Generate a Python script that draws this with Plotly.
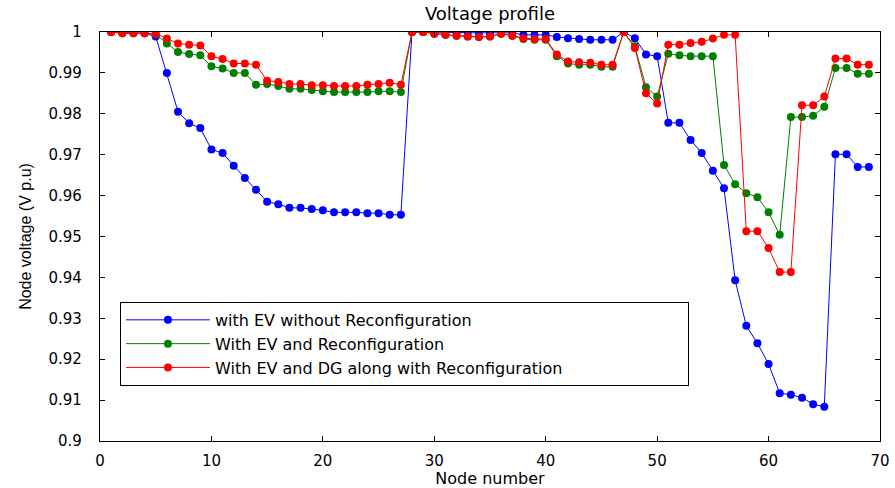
import plotly.graph_objects as go

nodes = list(range(1, 70))

v_ev_no_reconf = [
    1.0000, 0.9998, 0.9998, 0.9997, 0.9989, 0.9900, 0.9805, 0.9777, 0.9765, 0.9713,
    0.9704, 0.9673, 0.9643, 0.9614, 0.9585, 0.9579, 0.9570, 0.9570, 0.9567, 0.9564,
    0.9559, 0.9559, 0.9559, 0.9557, 0.9557, 0.9553, 0.9553, 1.0000, 1.0000, 0.9999,
    0.9999, 0.9999, 0.9998, 0.9998, 0.9998, 0.9998, 0.9998, 0.9993, 0.9993, 0.9993,
    0.9988, 0.9985, 0.9983, 0.9981, 0.9981, 0.9981, 1.0000, 0.9985, 0.9945, 0.9941,
    0.9778, 0.9778, 0.9736, 0.9704, 0.9661, 0.9618, 0.9393, 0.9282, 0.9239, 0.9188,
    0.9117, 0.9113, 0.9106, 0.9090, 0.9084, 0.9701, 0.9701, 0.9670, 0.9670,
]

v_ev_reconf = [
    1.0000, 0.9997, 0.9997, 0.9997, 0.9994, 0.9972, 0.9951, 0.9946, 0.9943, 0.9916,
    0.9911, 0.9900, 0.9900, 0.9871, 0.9873, 0.9868, 0.9861, 0.9861, 0.9858, 0.9855,
    0.9853, 0.9853, 0.9853, 0.9853, 0.9855, 0.9855, 0.9853, 1.0000, 1.0000, 0.9996,
    0.9993, 0.9991, 0.9989, 0.9988, 0.9989, 0.9996, 0.9991, 0.9983, 0.9981, 0.9981,
    0.9941, 0.9923, 0.9920, 0.9920, 0.9915, 0.9915, 1.0000, 0.9965, 0.9865, 0.9842,
    0.9947, 0.9943, 0.9941, 0.9941, 0.9941, 0.9675, 0.9628, 0.9606, 0.9596, 0.9559,
    0.9504, 0.9792, 0.9792, 0.9795, 0.9817, 0.9912, 0.9912, 0.9898, 0.9898,
]

v_ev_dg_reconf = [
    1.0000, 0.9997, 0.9997, 0.9997, 0.9996, 0.9984, 0.9972, 0.9969, 0.9967, 0.9941,
    0.9934, 0.9923, 0.9923, 0.9920, 0.9881, 0.9878, 0.9873, 0.9873, 0.9870, 0.9870,
    0.9868, 0.9868, 0.9868, 0.9871, 0.9873, 0.9876, 0.9871, 1.0000, 1.0000, 0.9996,
    0.9993, 0.9991, 0.9989, 0.9988, 0.9989, 0.9996, 0.9991, 0.9985, 0.9983, 0.9983,
    0.9945, 0.9928, 0.9926, 0.9925, 0.9920, 0.9920, 1.0000, 0.9961, 0.9850, 0.9825,
    0.9969, 0.9969, 0.9973, 0.9976, 0.9984, 0.9993, 0.9993, 0.9513, 0.9513, 0.9472,
    0.9413, 0.9413, 0.9821, 0.9821, 0.9842, 0.9935, 0.9935, 0.9920, 0.9920,
]

series_names = [
    "with EV without Reconfiguration",
    "With EV and Reconfiguration",
    "With EV and DG along with Reconfiguration",
]
series_colors = ["#0000FF", "#008000", "#FF0000"]
series_values = [v_ev_no_reconf, v_ev_reconf, v_ev_dg_reconf]

fig = go.Figure()
for name, color, vals in zip(series_names, series_colors, series_values):
    fig.add_trace(go.Scatter(
        x=nodes, y=vals, name=name, mode="lines+markers",
        line=dict(color=color, width=1),
        marker=dict(color=color, size=8),
    ))

axis_common = dict(
    showline=True, linecolor="black", linewidth=1.3, mirror="ticks",
    ticks="inside", ticklen=5, tickcolor="black", tickwidth=1,
    showgrid=False, zeroline=False, automargin=False,
    tickfont=dict(family="DejaVu Sans", size=15, color="black"),
)

fig.update_layout(
    width=895, height=488,
    margin=dict(l=100, r=15, t=32, b=47),
    paper_bgcolor="white", plot_bgcolor="white",
    font=dict(family="DejaVu Sans", color="black"),
    title=dict(text="Voltage profile", x=0.5, xref="paper", y=0.971,
               yref="container", yanchor="middle", xanchor="center",
               font=dict(family="DejaVu Sans", size=18, color="black")),
    xaxis=dict(range=[0, 70], dtick=10, tick0=0, ticklabelstandoff=6,
               title=dict(text="Node number", standoff=0,
                          font=dict(family="DejaVu Sans", size=16, color="black")),
               **axis_common),
    yaxis=dict(range=[0.9, 1.0], dtick=0.01, tick0=0.9, ticklabelstandoff=14,
               title=dict(text="Node voltage (V p.u)", standoff=12,
                          font=dict(family="Liberation Sans", size=16, color="black")),
               **axis_common),
    showlegend=True,
    legend=dict(
        x=0.0256, y=0.34, xanchor="left", yanchor="top",
        orientation="h", entrywidth=468, entrywidthmode="pixels",
        itemwidth=84,
        bgcolor="white", bordercolor="black", borderwidth=1,
        font=dict(family="DejaVu Sans", size=16, color="black"),
        tracegroupgap=0,
    ),
)

fig.write_html("out.html")
